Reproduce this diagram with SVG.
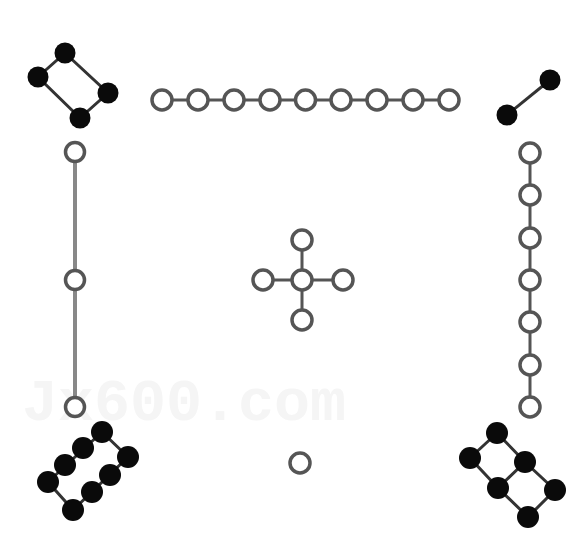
<svg xmlns="http://www.w3.org/2000/svg" width="578" height="534" viewBox="0 0 578 534">
<style>
.b{fill:#0a0a0a}
.o{fill:#fff;stroke:#555;stroke-width:3.5}
.l{stroke:#333;stroke-width:3;fill:none}
.g{stroke:#888;stroke-width:4;fill:none}
.c{stroke:#555;stroke-width:3;fill:none}
.wm{font-family:"Liberation Mono",monospace;font-size:60px;font-weight:bold;fill:#f5f5f5}
</style>
<rect width="578" height="534" fill="#fff"/>
<text class="wm" x="22" y="420">Jx600.com</text>
<g id="connectors">
<path class="l" d="M65,53 L108,93 L80,118 L38,77 Z"/>
<path class="c" d="M162,100 H449"/>
<path class="l" d="M550,80 L507,115"/>
<path class="g" d="M75,152 V407"/>
<path class="c" d="M530,153 V407"/>
<path class="c" d="M302,240 V320 M263,280 H343"/>
<path class="l" d="M102,432 L48,482 L73,510 L128,457 Z"/>
<path class="l" d="M497,433 L470,458 L498,488 L528,517 L555,490 L525,462 Z M525,462 L498,488"/>
</g>
<g id="n-topleft">
<circle class="b" cx="65" cy="53" r="10.5"/><circle class="b" cx="38" cy="77" r="10.5"/>
<circle class="b" cx="108" cy="93" r="10.5"/><circle class="b" cx="80" cy="118" r="10.5"/>
</g>
<g id="n-topchain">
<circle class="o" cx="162" cy="100" r="10"/><circle class="o" cx="198" cy="100" r="10"/>
<circle class="o" cx="234" cy="100" r="10"/><circle class="o" cx="270" cy="100" r="10"/>
<circle class="o" cx="305.5" cy="100" r="10"/><circle class="o" cx="341" cy="100" r="10"/>
<circle class="o" cx="377" cy="100" r="10"/><circle class="o" cx="413" cy="100" r="10"/>
<circle class="o" cx="449" cy="100" r="10"/>
</g>
<g id="n-topright">
<circle class="b" cx="550" cy="80" r="10.5"/><circle class="b" cx="507" cy="115" r="10.5"/>
</g>
<g id="n-left">
<circle class="o" cx="75" cy="152" r="9.5"/><circle class="o" cx="75" cy="280" r="9.5"/><circle class="o" cx="75" cy="407" r="9.5"/>
</g>
<g id="n-right">
<circle class="o" cx="530" cy="153" r="10"/><circle class="o" cx="530" cy="195" r="10"/>
<circle class="o" cx="530" cy="238" r="10"/><circle class="o" cx="530" cy="280" r="10"/>
<circle class="o" cx="530" cy="322" r="10"/><circle class="o" cx="530" cy="365" r="10"/>
<circle class="o" cx="530" cy="407" r="10"/>
</g>
<g id="n-center">
<circle class="o" cx="302" cy="280" r="10"/><circle class="o" cx="302" cy="240" r="10"/>
<circle class="o" cx="302" cy="320" r="10"/><circle class="o" cx="263" cy="280" r="10"/>
<circle class="o" cx="343" cy="280" r="10"/>
</g>
<g id="n-bottom">
<circle class="o" cx="300" cy="463" r="10"/>
</g>
<g id="n-bottomleft">
<circle class="b" cx="102" cy="432" r="11"/><circle class="b" cx="83" cy="448" r="11"/>
<circle class="b" cx="65" cy="465" r="11"/><circle class="b" cx="48" cy="482" r="11"/>
<circle class="b" cx="128" cy="457" r="11"/><circle class="b" cx="110" cy="475" r="11"/>
<circle class="b" cx="92" cy="492" r="11"/><circle class="b" cx="73" cy="510" r="11"/>
</g>
<g id="n-bottomright">
<circle class="b" cx="497" cy="433" r="11"/><circle class="b" cx="470" cy="458" r="11"/>
<circle class="b" cx="525" cy="462" r="11"/><circle class="b" cx="498" cy="488" r="11"/>
<circle class="b" cx="555" cy="490" r="11"/><circle class="b" cx="528" cy="517" r="11"/>
</g>
</svg>
